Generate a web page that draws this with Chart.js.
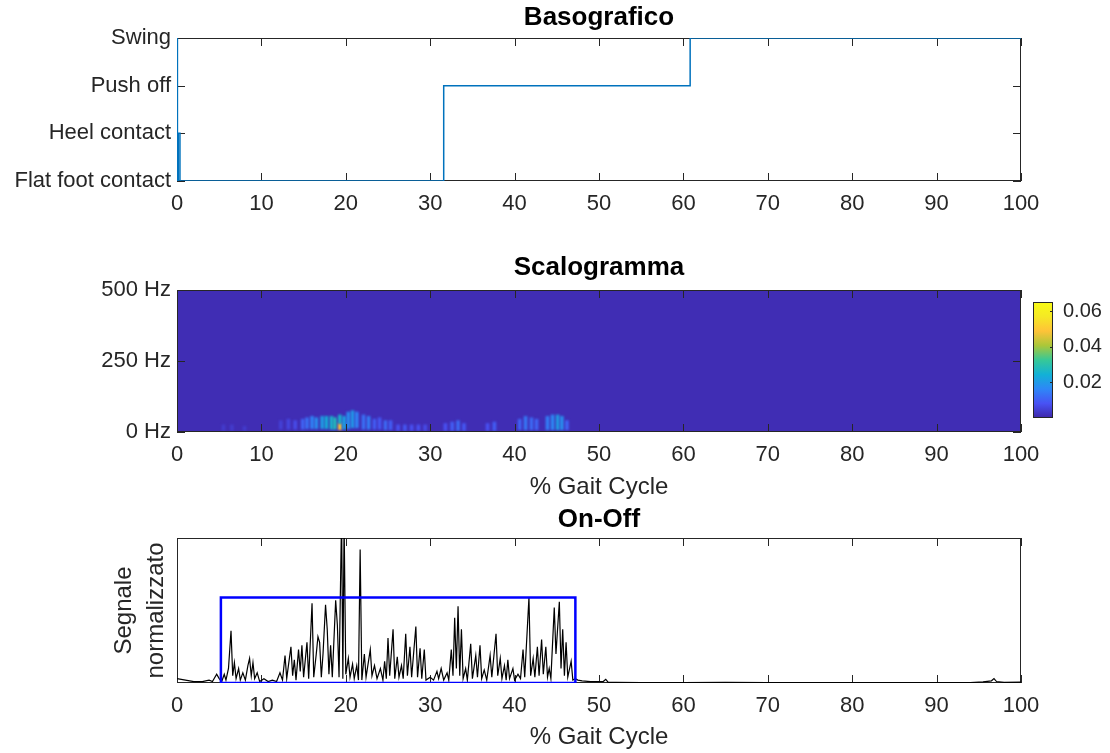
<!DOCTYPE html>
<html>
<head>
<meta charset="utf-8">
<script src="https://cdn.jsdelivr.net/npm/chart.js@4.4.0/dist/chart.umd.min.js"></script>
<style>
  body { margin: 0; background: #fff; }
  #wrap { position: relative; width: 1110px; height: 753px; }
  #wrap canvas { position: absolute; left: 0; top: 0; }
</style>
</head>
<body>
<div id="wrap">
  <canvas id="baso" width="1110" height="753"></canvas>
  <canvas id="scalo" width="1110" height="753"></canvas>
  <canvas id="cbar" width="1110" height="753"></canvas>
  <canvas id="onoff" width="1110" height="753"></canvas>
</div>
<script>
// foot switch phases (stairs)
var phaseNames = ['Flat foot contact', 'Heel contact', 'Push off', 'Swing'];
var basoX = [0, 0.05, 0.15, 0.35, 31.6, 60.8, 100];
var basoY = [3, 0, 1, 0, 2, 3, 3];

// scalogram: energy spots (gait %, low/high Hz, magnitude)
var freqMax = 500;
var blobX = [5.5, 6.5, 8.0, 12.3, 13.2, 14.0, 14.9, 15.4, 16.0, 16.5, 17.2, 17.7, 18.3, 18.7, 19.3, 19.3,
  19.8, 20.3, 20.8, 21.3, 22.1, 22.7, 23.4, 24.0, 24.7, 25.3, 26.2, 27.0, 27.8, 28.6, 29.4,
  31.8, 32.6, 33.3, 34.0, 36.8, 37.6, 40.6, 41.3, 42.0, 42.6, 43.9, 44.5, 45.1, 45.6, 46.2];
var blobLo = [5, 5, 5, 10, 10, 10, 10, 12, 12, 12, 12, 12, 10, 10, 8, 30,
  10, 12, 15, 15, 10, 10, 10, 10, 8, 8, 5, 5, 5, 5, 5,
  5, 5, 5, 5, 5, 5, 8, 8, 8, 8, 8, 8, 8, 8, 8];
var blobHi = [25, 25, 20, 40, 45, 40, 45, 50, 55, 50, 55, 55, 55, 50, 30, 60,
  55, 70, 75, 70, 60, 55, 45, 50, 40, 40, 25, 25, 25, 25, 25,
  30, 35, 40, 30, 30, 35, 45, 55, 50, 45, 55, 60, 60, 55, 40];
var blobLevel = [0.004, 0.004, 0.004, 0.005, 0.006, 0.007, 0.011, 0.013, 0.016, 0.018, 0.021, 0.024, 0.026, 0.028, 0.050, 0.026,
  0.022, 0.018, 0.020, 0.016, 0.013, 0.015, 0.010, 0.009, 0.012, 0.010, 0.008, 0.009, 0.008, 0.008, 0.007,
  0.008, 0.010, 0.012, 0.009, 0.008, 0.010, 0.011, 0.014, 0.012, 0.011, 0.015, 0.017, 0.021, 0.018, 0.011];
var cbarMax = 0.0652;
var cbarTicks = [0.02, 0.04, 0.06];

// normalised EMG envelope
var gaitX = [
  0, 1, 2, 3, 3.8, 4.2, 4.7, 5.0, 5.3, 5.6, 5.8,
  6.1, 6.4, 6.6, 6.8, 7.0, 7.3, 7.5, 7.8, 8.1, 8.4, 8.6, 8.8, 9.0, 9.2, 9.5, 9.8,
  10.3, 10.8, 11.3, 11.8, 12.2, 12.5, 12.8, 13.0, 13.2, 13.5, 13.7, 13.9, 14.1, 14.4, 14.6, 14.8, 15.0, 15.4, 15.6,
  16.0, 16.2, 16.5, 16.7, 16.9, 17.1, 17.3, 17.6, 17.8, 18.0, 18.2, 18.4, 18.8, 19.0, 19.2,
  19.5, 19.65, 19.8, 20.0, 20.3, 20.5, 20.8, 21.0, 21.3, 21.5, 21.7, 21.9, 22.2, 22.4,
  22.9, 23.1, 23.4, 23.7, 24.1, 24.4, 24.6, 24.8, 25.0, 25.2, 25.6, 25.8, 26.1, 26.3, 26.6, 26.8, 27.1, 27.3, 27.6, 27.8,
  28.3, 28.5, 28.8, 29.0, 29.3, 29.5, 30.0, 30.4, 30.8, 31.0, 31.3, 31.6, 32.0, 32.2,
  32.5, 32.7, 32.9, 33.1, 33.3, 33.5, 33.7, 33.9, 34.2, 34.4, 34.8, 35.0, 35.4, 35.6, 35.9, 36.1, 36.4, 36.7,
  37.1, 37.3, 37.8, 38.0, 38.3, 38.5, 38.8, 39.0, 39.2, 39.4, 39.8, 40.0, 40.4, 40.7,
  41.0, 41.2, 41.7, 41.9, 42.2, 42.4, 42.7, 42.9, 43.2, 43.4, 43.7, 43.9, 44.1, 44.3,
  44.7, 44.9, 45.3, 45.5, 45.7, 45.9, 46.1, 46.3, 46.7, 46.9, 47.2,
  47.5, 48, 49, 50.5, 50.8, 51.1, 52, 55, 60, 65, 70, 75, 80, 85, 90, 94, 95.5, 96.5, 96.8, 97.1, 98, 100
];
var onOff = [
  0.03, 0.02, 0.01, 0.01, 0.02, 0.01, 0.06, 0.03, 0.01, 0.06, 0.02,
  0.10, 0.36, 0.05, 0.14, 0.03, 0.10, 0.02, 0.07, 0.02, 0.12, 0.17, 0.05, 0.14, 0.03, 0.07, 0.01,
  0.03, 0.01, 0.02, 0.01, 0.07, 0.02, 0.19, 0.03, 0.12, 0.25, 0.05, 0.16, 0.02, 0.23, 0.08, 0.26, 0.04, 0.28, 0.03,
  0.55, 0.04, 0.20, 0.32, 0.28, 0.04, 0.20, 0.54, 0.37, 0.06, 0.26, 0.04, 0.57, 0.40, 0.04,
  1.15, 0.03, 1.10, 0.06, 0.17, 0.04, 0.13, 0.03, 0.12, 0.02, 0.92, 0.02, 0.20, 0.04,
  0.23, 0.05, 0.12, 0.03, 0.10, 0.02, 0.15, 0.03, 0.31, 0.05, 0.37, 0.03, 0.18, 0.04, 0.12, 0.03, 0.34, 0.05, 0.25, 0.04,
  0.39, 0.04, 0.24, 0.03, 0.23, 0.02, 0.04, 0.02, 0.08, 0.03, 0.10, 0.02, 0.07, 0.02,
  0.23, 0.05, 0.45, 0.10, 0.53, 0.05, 0.37, 0.03, 0.10, 0.02, 0.27, 0.03, 0.19, 0.04, 0.26, 0.03, 0.09, 0.02,
  0.19, 0.04, 0.34, 0.05, 0.17, 0.03, 0.12, 0.02, 0.16, 0.03, 0.10, 0.02, 0.06, 0.03,
  0.23, 0.04, 0.59, 0.05, 0.17, 0.04, 0.25, 0.05, 0.30, 0.06, 0.25, 0.04, 0.10, 0.03,
  0.52, 0.20, 0.56, 0.10, 0.37, 0.05, 0.28, 0.04, 0.15, 0.02, 0.03,
  0.02, 0.015, 0.01, 0.01, 0.025, 0.005, 0.005, 0.003, 0.002, 0.004, 0.003, 0.003, 0.003, 0.003, 0.002, 0.003, 0.008, 0.015, 0.03, 0.01, 0.005, 0.006
];
var activeStart = 5.2;
var activeEnd = 47.2;
var activeLevel = 0.59;

Chart.defaults.font.family = '"Liberation Sans", Arial, sans-serif';
Chart.defaults.color = '#262626';

// parula colormap
var parulaStops = [[62, 38, 168], [72, 82, 244], [46, 135, 247], [18, 177, 214], [55, 200, 151],
  [171, 199, 57], [254, 195, 56], [245, 233, 36], [249, 251, 21]];
function parula(t) {
  t = Math.max(0, Math.min(1, t)) * (parulaStops.length - 1);
  var i = Math.min(Math.floor(t), parulaStops.length - 2), f = t - i;
  var a = parulaStops[i], b = parulaStops[i + 1];
  return 'rgb(' + [0, 1, 2].map(function (k) { return Math.round(a[k] + (b[k] - a[k]) * f); }).join(',') + ')';
}

// axes box with inward ticks
function drawFrame(chart, o) {
  var ctx = chart.ctx, a = chart.chartArea, len = o.len || 8;
  ctx.save();
  ctx.strokeStyle = '#262626';
  ctx.lineWidth = 1;
  ctx.strokeRect(a.left + 0.5, a.top + 0.5, a.right - a.left - 1, a.bottom - a.top - 1);
  ctx.beginPath();
  if (o.x) {
    chart.scales.x.ticks.forEach(function (t) {
      var px = Math.round(chart.scales.x.getPixelForValue(t.value)) + 0.5;
      ctx.moveTo(px, a.bottom); ctx.lineTo(px, a.bottom - len);
      ctx.moveTo(px, a.top); ctx.lineTo(px, a.top + len);
    });
  }
  if (o.yl || o.yr) {
    chart.scales.y.ticks.forEach(function (t) {
      var py = Math.round(chart.scales.y.getPixelForValue(t.value)) + 0.5;
      if (o.yl) { ctx.moveTo(a.left, py); ctx.lineTo(a.left + len, py); }
      if (o.yr) { ctx.moveTo(a.right, py); ctx.lineTo(a.right - len, py); }
    });
  }
  ctx.stroke();
  ctx.restore();
}
var framePlugin = {
  id: 'frame',
  beforeDatasetsDraw: function (chart, args, o) { if (!o.onTop) drawFrame(chart, o); },
  afterDatasetsDraw: function (chart, args, o) { if (o.onTop) drawFrame(chart, o); }
};

// image background + soft blending for the scalogram
var scaloPlugin = {
  id: 'scaloBg',
  beforeDatasetsDraw: function (chart) {
    var ctx = chart.ctx, a = chart.chartArea;
    ctx.fillStyle = parula(0.02);
    ctx.fillRect(a.left, a.top, a.right - a.left, a.bottom - a.top);
    ctx.save();
    ctx.filter = 'blur(1.3px)';
  },
  afterDatasetsDraw: function (chart) { chart.ctx.restore(); }
};

function fixWidth(w) { return function (s) { s.width = w; }; }
function fixHeight(h) { return function (s) { s.height = h; }; }

function gaitAxis(h, label, pad) {
  return {
    type: 'linear', min: 0, max: 100, offset: false,
    grid: { display: false, drawTicks: false }, border: { display: false },
    ticks: { stepSize: 10, padding: 10, font: { size: 22 }, maxRotation: 0, autoSkip: false },
    title: label ? { display: true, text: label, font: { size: 24 }, padding: { top: 0, bottom: pad } } : { display: false },
    afterFit: fixHeight(h)
  };
}
function plotTitle(text, bottom) {
  return {
    display: true, fullSize: false, text: text, color: '#000',
    font: { size: 26, weight: 'bold' }, padding: { top: 2, bottom: bottom }
  };
}
var base = { responsive: false, animation: false, devicePixelRatio: 1, events: [] };

new Chart(document.getElementById('baso'), {
  type: 'line',
  data: {
    datasets: [{
      data: basoX.map(function (x, i) { return { x: x, y: basoY[i] }; }),
      borderColor: '#0072bd', borderWidth: 1.5, pointRadius: 0, stepped: 'before', fill: false
    }]
  },
  options: Object.assign({}, base, {
    layout: { padding: { left: 0, right: 89, top: 0, bottom: 538 } },
    plugins: {
      legend: { display: false }, tooltip: { enabled: false },
      title: plotTitle('Basografico', 4.8),
      frame: { x: true, yl: true, yr: true }
    },
    scales: {
      x: gaitAxis(34),
      y: {
        type: 'linear', min: 0, max: 3,
        grid: { display: false, drawTicks: false }, border: { display: false },
        ticks: { stepSize: 1, padding: 6, font: { size: 22 }, callback: function (v) { return phaseNames[v]; } },
        afterFit: fixWidth(177)
      }
    }
  }),
  plugins: [framePlugin]
});

new Chart(document.getElementById('scalo'), {
  type: 'bar',
  data: {
    datasets: [{
      data: blobX.map(function (x, i) { return { x: x, y: [blobLo[i], blobHi[i]] }; }),
      backgroundColor: function (c) { return parula(blobLevel[c.dataIndex] / cbarMax); },
      borderWidth: 0, barThickness: 3, grouped: false
    }]
  },
  options: Object.assign({}, base, {
    layout: { padding: { left: 0, right: 89, top: 250, bottom: 241 } },
    plugins: {
      legend: { display: false }, tooltip: { enabled: false },
      title: plotTitle('Scalogramma', 6.8),
      frame: { x: true, yl: true, yr: true, onTop: true }
    },
    scales: {
      x: gaitAxis(80, '% Gait Cycle', 10.6),
      y: {
        type: 'linear', min: 0, max: freqMax,
        grid: { display: false, drawTicks: false }, border: { display: false },
        ticks: { stepSize: 250, padding: 6, font: { size: 22 }, callback: function (v) { return v + ' Hz'; } },
        afterFit: fixWidth(177)
      }
    }
  }),
  plugins: [scaloPlugin, framePlugin]
});

new Chart(document.getElementById('cbar'), {
  type: 'bar',
  data: {
    labels: [''],
    datasets: [{
      data: [[0, cbarMax]],
      backgroundColor: function (c) {
        var a = c.chart.chartArea;
        if (!a) return parula(0);
        var g = c.chart.ctx.createLinearGradient(0, a.bottom, 0, a.top);
        parulaStops.forEach(function (s, i) { g.addColorStop(i / (parulaStops.length - 1), 'rgb(' + s.join(',') + ')'); });
        return g;
      },
      borderWidth: 0, barPercentage: 1, categoryPercentage: 1
    }]
  },
  options: Object.assign({}, base, {
    layout: { padding: { left: 1033, right: 0, top: 302, bottom: 335 } },
    plugins: {
      legend: { display: false }, tooltip: { enabled: false },
      frame: { yr: true, len: 3, onTop: true }
    },
    scales: {
      x: { display: false },
      y: {
        position: 'right', min: 0, max: cbarMax,
        grid: { display: false, drawTicks: false }, border: { display: false },
        afterBuildTicks: function (s) { s.ticks = cbarTicks.map(function (v) { return { value: v }; }); },
        ticks: { padding: 10, font: { size: 20 }, callback: function (v) { return Number(v).toFixed(2); } },
        afterFit: fixWidth(57)
      }
    }
  }),
  plugins: [framePlugin]
});

new Chart(document.getElementById('onoff'), {
  type: 'line',
  data: {
    datasets: [{
      data: [[activeStart, 0], [activeStart, activeLevel], [activeEnd, activeLevel], [activeEnd, 0], [activeStart, 0]]
        .map(function (p) { return { x: p[0], y: p[1] }; }),
      borderColor: '#0000ff', borderWidth: 2.5, pointRadius: 0, fill: false, order: 0
    }, {
      data: gaitX.map(function (x, i) { return { x: x, y: onOff[i] }; }),
      borderColor: '#000', borderWidth: 1.2, pointRadius: 0, fill: false, order: 1
    }]
  },
  options: Object.assign({}, base, {
    layout: { padding: { left: 0, right: 89, top: 502, bottom: 0 } },
    plugins: {
      legend: { display: false }, tooltip: { enabled: false },
      title: plotTitle('On-Off', 2.8),
      frame: { x: true }
    },
    scales: {
      x: gaitAxis(70, '% Gait Cycle', 1.6),
      y: {
        type: 'linear', min: 0, max: 1,
        grid: { display: false, drawTicks: false }, border: { display: false },
        ticks: { display: false },
        title: { display: true, text: ['Segnale', 'normalizzato'], font: { size: 24, lineHeight: 1.35 }, padding: { top: 107.8, bottom: 0 } },
        afterFit: fixWidth(177)
      }
    }
  }),
  plugins: [framePlugin]
});
</script>
</body>
</html>
